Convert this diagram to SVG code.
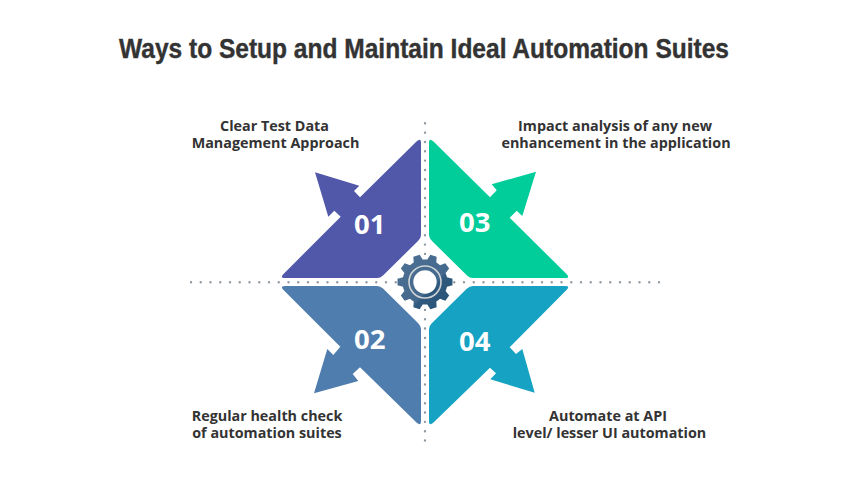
<svg xmlns="http://www.w3.org/2000/svg" width="848" height="479" viewBox="0 0 848 479">
<style>
.title{font-family:"Liberation Sans",Arial,sans-serif;font-weight:700;font-size:27.500px;fill:#333333;stroke:#333333;stroke-width:0.400}
.label{font-family:"Open Sans","Noto Sans",sans-serif;font-weight:700;font-size:14.350px;fill:#333333;text-anchor:middle}
.num{font-family:"Open Sans","Noto Sans",sans-serif;font-weight:700;font-size:27.500px;fill:#ffffff}
.dots{fill:none;stroke:#8f99a2;stroke-width:2.400;stroke-linecap:round;stroke-dasharray:0 9.750}
</style>
<defs>
<linearGradient id="gearFill" gradientUnits="userSpaceOnUse" x1="405" y1="262" x2="445" y2="302">
<stop offset="0" stop-color="#4a6f92"/><stop offset="0.62" stop-color="#44698c"/><stop offset="0.68" stop-color="#2f5a7e"/><stop offset="1" stop-color="#2a5577"/>
</linearGradient>
<polygon id="tooth" points="-5,-21 -3.300,-27.500 3.300,-27.500 5,-21"/>
<clipPath id="gearClip">
<circle cx="425" cy="282" r="22.500"/>
<use href="#tooth" transform="translate(425 282) rotate(18)"/>
<use href="#tooth" transform="translate(425 282) rotate(54)"/>
<use href="#tooth" transform="translate(425 282) rotate(90)"/>
<use href="#tooth" transform="translate(425 282) rotate(126)"/>
<use href="#tooth" transform="translate(425 282) rotate(162)"/>
<use href="#tooth" transform="translate(425 282) rotate(198)"/>
<use href="#tooth" transform="translate(425 282) rotate(234)"/>
<use href="#tooth" transform="translate(425 282) rotate(270)"/>
<use href="#tooth" transform="translate(425 282) rotate(306)"/>
<use href="#tooth" transform="translate(425 282) rotate(342)"/>
</clipPath>
</defs>
<rect width="848" height="479" fill="#ffffff"/>
<text id="title" class="title" x="119" y="57.500" textLength="610" lengthAdjust="spacingAndGlyphs">Ways to Setup and Maintain Ideal Automation Suites</text>
<g id="connectors">
<path class="dots" d="M191 282.300H662"/>
<path class="dots" d="M425 123.300V442" style="stroke-dasharray:0 9.330"/>
</g>
<g id="node-01">
<path fill="#5158a9" d="M416.500 141.500Q421 137.500 421 143V235Q421 238 418 241L383 275.500Q380.500 278 377 278H285Q280 278 283 274.500L340.700 216.700L334.300 210.700L328.300 216.700L315 172.300L359.300 185.700L354 191L360 197.300Z"/>
<text class="num" x="354" y="233.500">01</text>
<text class="label" x="274.500" y="131">Clear Test Data</text>
<text class="label" x="275.500" y="148">Management Approach</text>
</g>
<g id="node-02">
<path fill="#4f7dad" d="M285 286H377Q380.500 286 383 288.500L418 323Q421 326 421 329V421Q421 426.500 416.500 422.500L360 367.300L352.700 374L358.300 381L314 393.300L327.300 349L333.300 355L340.300 346.700L283 289.500Q280 286 285 286Z"/>
<text class="num" x="354" y="348.500">02</text>
<text class="label" x="267" y="421">Regular health check</text>
<text class="label" x="267" y="438">of automation suites</text>
</g>
<g id="node-03">
<path fill="#00cd9a" d="M433.500 141.500Q429 137.500 429 143V235Q429 238 432 241L467 275.500Q469.500 278 473 278H565Q570 278 567 274.500L509.700 217.700L516.700 210.700L522.300 216L536 171.700L491.700 184.300L496.700 190.300L490 197.300Z"/>
<text class="num" x="459" y="232">03</text>
<text class="label" x="615" y="131">Impact analysis of any new</text>
<text class="label" x="616" y="148">enhancement in the application</text>
</g>
<g id="node-04">
<path fill="#15a2c3" d="M473 286H565Q570 286 567 289.500L509.700 347.300L516 354L522.300 349L534.700 392.700L490.300 379.300L496 373.300L490 367.700L433.500 422.500Q429 426.500 429 421V329Q429 326 432 323L467 288.500Q469.500 286 473 286Z"/>
<text class="num" x="459" y="351">04</text>
<text class="label" x="608" y="421">Automate at API</text>
<text class="label" x="609.500" y="438">level/ lesser UI automation</text>
</g>
<g id="node-gear">
<rect x="395" y="252" width="60" height="60" fill="url(#gearFill)" clip-path="url(#gearClip)"/>
<circle cx="425" cy="282" r="16" fill="none" stroke="#cfd3d6" stroke-width="1.600"/>
<circle cx="425" cy="282" r="11.700" fill="#ffffff"/>
</g>
</svg>
